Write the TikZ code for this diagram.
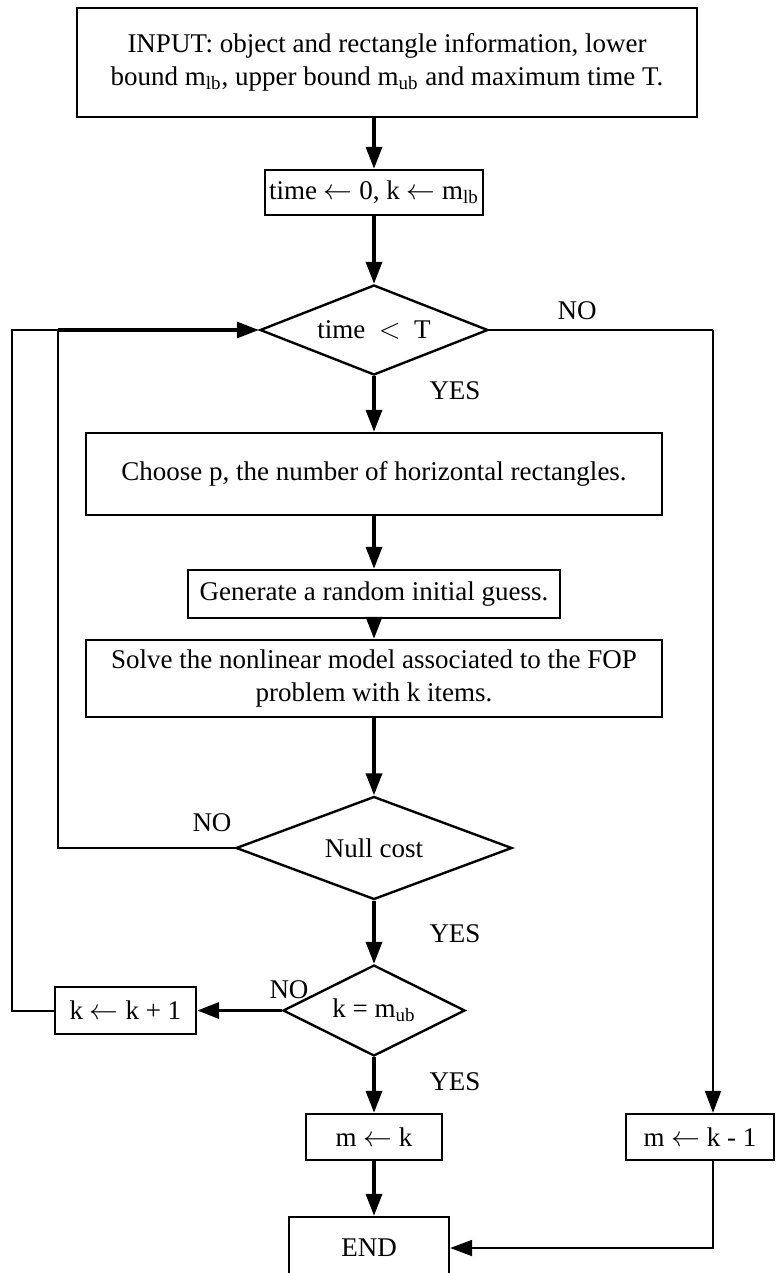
\documentclass[tikz,border=0pt]{standalone}
\usepackage{fontspec}
\setmainfont{Liberation Serif}
\usetikzlibrary{arrows.meta}
\usetikzlibrary{shapes.geometric}

\begin{document}
\begin{tikzpicture}[x=0.5pt, y=-0.5pt,
    font=\fontsize{13.5}{16.5}\selectfont,
    box/.style={draw, line width=1.2pt, inner sep=0pt, align=center},
    test/.style={draw, diamond, line width=1.2pt, inner sep=0pt},
    flow/.style={line width=1.75pt, -{Triangle[length=11pt, width=8pt]}},
    thinflow/.style={line width=1pt, -{Triangle[length=11pt, width=8pt]}},
    back/.style={line width=1pt}]
    \useasboundingbox (0,0) rectangle (776,1273);

    \node[box, minimum width=310pt, minimum height=54.5pt] (input) at (387,62.5)
        {INPUT: object and rectangle information, lower\\
         bound m\textsubscript{lb}, upper bound m\textsubscript{ub} and maximum time T.};
    \node[box, minimum width=109pt, minimum height=22.5pt] (init) at (374,192.5)
        {time $\leftarrow$ 0, k $\leftarrow$ m\textsubscript{lb}};
    \node[test, aspect=2.53, minimum width=114pt, minimum height=45pt] (timetest) at (374,330)
        {time \ $<$ \ T};
    \node[box, minimum width=288pt, minimum height=41pt] (choose) at (374,474)
        {Choose p, the number of horizontal rectangles.};
    \node[box, minimum width=186pt, minimum height=24pt] (guess) at (374,594)
        {Generate a random initial guess.};
    \node[box, minimum width=288pt, minimum height=38.5pt] (solve) at (374,678.5)
        {Solve the nonlinear model associated to the FOP\\ problem with k items.};
    \node[test, aspect=2.68, minimum width=138pt, minimum height=51.5pt] (nullcost) at (374,848)
        {Null cost};
    \node[test, aspect=2, minimum width=91pt, minimum height=45.5pt] (ktest) at (374,1010.5)
        {k = m\textsubscript{ub}};
    \node[box, minimum width=70.5pt, minimum height=23.5pt] (inc) at (125.5,1010.5)
        {k $\leftarrow$ k + 1};
    \node[box, minimum width=68pt, minimum height=23pt] (mk) at (374,1137)
        {m $\leftarrow$ k};
    \node[box, minimum width=74pt, minimum height=23pt] (mkm) at (700,1137)
        {m $\leftarrow$ k - 1};
    \node[box, minimum width=80pt, minimum height=31pt] (end) at (369,1248)
        {END};

    % branch labels
    \node (no1) at (577,311) {NO};
    \node (yes1) at (455,391) {YES};
    \node (no2) at (212,823) {NO};
    \node (yes2) at (455,934) {YES};
    \node (no3) at (289,990) {NO};
    \node (yes3) at (455,1082) {YES};

    \coordinate (rturn) at (713,330);
    \coordinate (join) at (58,330);
    \coordinate (outer) at (12,330);

    \draw[flow] (init |- input.south) -- (init);
    \draw[flow] (init) -- (timetest);
    \draw[flow] (timetest) -- (choose);
    \draw[flow] (choose) -- (guess);
    \draw[flow] (guess) -- (solve);
    \draw[flow] (solve) -- (nullcost);
    \draw[flow] (nullcost) -- (ktest);
    \draw[flow] (ktest) -- (mk);
    \draw[flow] (mk) -- (mk |- end.north);
    \draw[flow] (ktest.west) -- (inc.east);

    % loops back to the time test
    \draw[back] (nullcost.west) -- (join |- nullcost.west) -- (join);
    \draw[back] (inc.west) -- (outer |- inc.west) -- (outer) -- (join);
    \draw[flow] (join) -- (timetest.west);

    % time is up
    \draw[back] (timetest.east) -- (rturn);
    \draw[thinflow] (rturn) -- (rturn |- mkm.north);
    \draw[thinflow] (rturn |- mkm.south) -- (rturn |- end.east) -- (end.east);
\end{tikzpicture}
\end{document}
